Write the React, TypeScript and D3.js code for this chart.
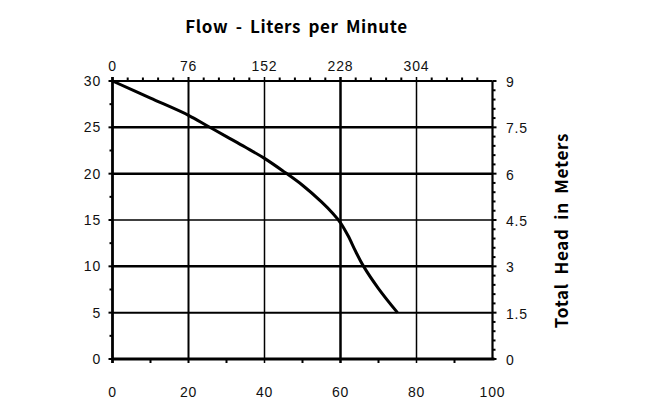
import React from "react";
import * as d3 from "d3";

const flowGpm = [0, 10, 20, 25, 30, 35, 40, 45, 50, 55, 58, 60, 62, 64, 66, 70, 75];
const headFt = [30, 28.15, 26.3, 25.15, 24.0, 22.85, 21.65, 20.25, 18.75, 16.95, 15.7, 14.7, 13.3, 11.6, 10.05, 7.6, 5.0];
const bottomTicks = [0, 20, 40, 60, 80, 100];
const topTickGpm = [0, 20, 40, 60, 80];
const topTickLabels = ["0", "76", "152", "228", "304"];
const leftTicks = [0, 5, 10, 15, 20, 25, 30];
const rightTickLabels = ["0", "1.5", "3", "4.5", "6", "7.5", "9"];
const title = "Flow - Liters per Minute";
const rightTitle = "Total Head in Meters";

const W = 645, H = 420;
const L = 112.5, R = 492.5, T = 81, B = 359;

export default function App() {
  const x = d3.scaleLinear().domain([0, 100]).range([L, R]);
  const y = d3.scaleLinear().domain([0, 30]).range([B, T]);
  const yM = d3.scaleLinear().domain([0, 9]).range([B, T]);
  const pts = flowGpm.map((g, i) => [g, headFt[i]] as [number, number]);
  const line = d3.line<[number, number]>().x(d => x(d[0])).y(d => y(d[1])).curve(d3.curveCatmullRom.alpha(0.5));
  const hGridW: Record<number, number> = { 5: 2, 10: 2.5, 15: 1.5, 20: 2.5, 25: 2.5 };
  const vGridW: Record<number, number> = { 20: 2, 40: 1.5, 60: 2.5, 80: 1.5 };
  const topMinor = d3.range(0, 100.01, 4).filter(v => v % 20 !== 0);
  const bottomMinor = d3.range(10, 100, 20);
  const leftMinor = d3.range(2.5, 30, 5);
  const rightMinor = d3.range(0, 9.001, 0.3).filter(v => Math.abs(v / 1.5 - Math.round(v / 1.5)) > 0.01);
  const tickFont = "'Liberation Sans', Arial, sans-serif";
  const titleFont = "'Noto Sans CJK JP', 'Noto Sans', sans-serif";
  const tickProps = { fontFamily: tickFont, fontSize: 14, fill: "#111", letterSpacing: 0.8 };
  return (
    <svg width={W} height={H} style={{ position: "absolute", left: 0, top: 0, background: "#fff" }}>
      <rect x={0} y={0} width={W} height={H} fill="#fff" />
      {[5, 10, 15, 20, 25].map(v => (
        <line key={"h" + v} x1={L} x2={R} y1={y(v)} y2={y(v)} stroke="#000" strokeWidth={hGridW[v]} />
      ))}
      {[20, 40, 60, 80].map(v => (
        <line key={"v" + v} x1={x(v)} x2={x(v)} y1={T - 4} y2={B + 4} stroke="#000" strokeWidth={vGridW[v]} />
      ))}
      <line x1={L} x2={R} y1={T} y2={T} stroke="#000" strokeWidth={2.2} />
      <line x1={L} x2={R + 2} y1={B} y2={B} stroke="#000" strokeWidth={2.8} />
      <line x1={L} x2={L} y1={T - 4} y2={B + 4} stroke="#000" strokeWidth={2.8} />
      <line x1={R} x2={R} y1={T} y2={B + 1} stroke="#000" strokeWidth={2.2} />
      {topMinor.map(v => (
        <line key={"tm" + v} x1={x(v)} x2={x(v)} y1={T} y2={T - 3.5} stroke="#000" strokeWidth={2} />
      ))}
      {bottomMinor.map(v => (
        <line key={"bm" + v} x1={x(v)} x2={x(v)} y1={B} y2={B + 4} stroke="#000" strokeWidth={2} />
      ))}
      {leftMinor.map(v => (
        <line key={"lm" + v} x1={L} x2={L - 3} y1={y(v)} y2={y(v)} stroke="#000" strokeWidth={2} />
      ))}
      {leftTicks.map(v => (
        <line key={"lM" + v} x1={L} x2={L - 4} y1={y(v)} y2={y(v)} stroke="#000" strokeWidth={2} />
      ))}
      {rightMinor.map(v => (
        <line key={"rm" + v} x1={R} x2={R + 3} y1={yM(v)} y2={yM(v)} stroke="#000" strokeWidth={2} />
      ))}
      {rightTickLabels.map((_, i) => (
        <line key={"rM" + i} x1={R} x2={R + 4} y1={yM(i * 1.5)} y2={yM(i * 1.5)} stroke="#000" strokeWidth={2} />
      ))}
      <path d={line(pts) || ""} fill="none" stroke="#000" strokeWidth={3} strokeLinejoin="round" />
      {bottomTicks.map(v => (
        <text key={"bl" + v} x={x(v)} y={397} textAnchor="middle" {...tickProps}>{v}</text>
      ))}
      {topTickGpm.map((v, i) => (
        <text key={"tl" + v} x={x(v)} y={71} textAnchor="middle" {...tickProps}>{topTickLabels[i]}</text>
      ))}
      {leftTicks.map(v => (
        <text key={"ll" + v} x={101} y={y(v)} dy="0.35em" textAnchor="end" {...tickProps}>{v}</text>
      ))}
      {rightTickLabels.map((s, i) => (
        <text key={"rl" + i} x={506} y={yM(i * 1.5) + 1} dy="0.35em" textAnchor="start" {...tickProps}>{s}</text>
      ))}
      <text x={296.5} y={33} textAnchor="middle" fontFamily={titleFont} fontWeight="bold" fontSize={17} fill="#000" letterSpacing={0.6} wordSpacing={3}>{title}</text>
      <text transform={`translate(568,230.5) rotate(-90)`} textAnchor="middle" fontFamily={titleFont} fontWeight="bold" fontSize={17} fill="#000" letterSpacing={0.7} wordSpacing={4}>{rightTitle}</text>
    </svg>
  );
}
